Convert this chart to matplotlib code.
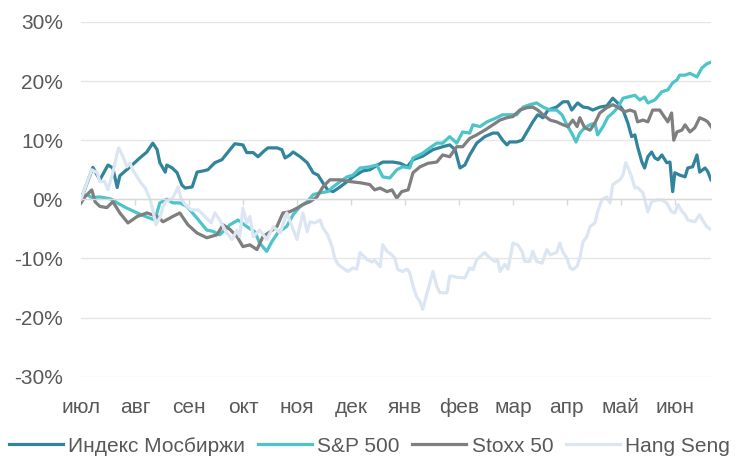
import numpy as np
import matplotlib
matplotlib.use("Agg")
import matplotlib.pyplot as plt

plt.rcParams['font.family'] = ['Liberation Sans', 'DejaVu Sans']

# --- Данные (x в месяцах от начала июля, y в %) ---
MONTHS = ['июл', 'авг', 'сен', 'окт', 'ноя', 'дек', 'янв', 'фев', 'мар', 'апр', 'май', 'июн']

moex_x = [0.00, 0.22, 0.35, 0.50, 0.59, 0.67, 0.72, 0.91, 1.09, 1.22, 1.33, 1.41, 1.46, 1.56, 1.59,
          1.69, 1.78, 1.87, 1.93, 2.06, 2.15, 2.26, 2.35, 2.48, 2.61, 2.76, 2.85, 3.00, 3.07, 3.19,
          3.28, 3.37, 3.46, 3.63, 3.72, 3.78, 3.87, 3.93, 4.06, 4.19, 4.30, 4.39, 4.48, 4.57, 4.67,
          4.80, 4.93, 5.04, 5.22, 5.35, 5.59, 5.78, 5.91, 6.04, 6.15, 6.33, 6.52, 6.70, 6.83, 6.93,
          7.02, 7.11, 7.20, 7.33, 7.48, 7.63, 7.72, 7.81, 7.89, 7.94, 8.07, 8.17, 8.26, 8.37, 8.46,
          8.56, 8.65, 8.81, 8.93, 9.02, 9.09, 9.20, 9.30, 9.39, 9.48, 9.61, 9.74, 9.85, 9.94, 10.04,
          10.13, 10.20, 10.26, 10.31, 10.39, 10.44, 10.50, 10.57, 10.63, 10.69, 10.76, 10.85, 10.91,
          10.96, 11.00, 11.09, 11.19, 11.24, 11.33, 11.41, 11.46, 11.56, 11.61, 11.67]
moex_y = [0.0, 5.4, 3.3, 5.8, 5.3, 2.0, 4.0, 5.5, 7.0, 8.0, 9.5, 8.4, 6.2, 4.6, 5.8,
          5.3, 4.5, 2.4, 1.9, 2.1, 4.6, 4.8, 5.0, 6.2, 6.7, 8.4, 9.4, 9.2, 7.9, 7.9,
          7.2, 8.0, 8.7, 8.7, 8.4, 7.0, 7.5, 8.0, 7.2, 6.2, 4.5, 4.1, 2.8, 1.6, 1.3,
          2.1, 3.0, 3.8, 4.8, 5.0, 6.3, 6.3, 6.1, 5.5, 6.7, 7.3, 8.4, 8.9, 9.2, 8.4,
          5.3, 5.8, 7.5, 9.5, 10.6, 11.2, 11.2, 10.0, 9.2, 9.7, 9.7, 10.0, 11.4, 13.1, 14.3,
          13.8, 15.1, 15.6, 16.5, 16.5, 15.1, 16.3, 15.6, 15.5, 15.1, 15.6, 15.8, 17.1, 16.3, 15.1,
          12.9, 10.6, 10.9, 8.9, 6.3, 5.3, 7.2, 8.0, 7.0, 6.7, 7.5, 6.2, 6.3,
          1.3, 4.5, 4.1, 3.8, 5.3, 5.5, 7.5, 4.6, 5.3, 4.7, 3.3]

sp_x = [0.00, 0.11, 0.20, 0.35, 0.48, 0.57, 0.67, 0.85, 1.04, 1.22, 1.37, 1.46, 1.59, 1.70, 1.83,
        1.96, 2.15, 2.33, 2.44, 2.57, 2.76, 2.91, 3.07, 3.22, 3.31, 3.44, 3.54, 3.65, 3.81, 3.93,
        4.06, 4.19, 4.30, 4.43, 4.57, 4.67, 4.80, 4.93, 5.04, 5.17, 5.35, 5.48, 5.59, 5.72, 5.85,
        5.96, 6.09, 6.15, 6.33, 6.46, 6.59, 6.70, 6.83, 6.96, 7.07, 7.20, 7.26, 7.39, 7.52, 7.70,
        7.81, 8.07, 8.19, 8.31, 8.44, 8.56, 8.69, 8.81, 8.91, 9.00, 9.09, 9.17, 9.24, 9.33, 9.43,
        9.52, 9.57, 9.67, 9.76, 9.85, 9.94, 10.04, 10.13, 10.26, 10.35, 10.44, 10.50, 10.63, 10.76,
        10.87, 10.96, 11.04, 11.09, 11.19, 11.28, 11.41, 11.50, 11.59, 11.67]
sp_y = [0.4, 0.8, 0.3, 0.4, 0.2, 0.0, -0.6, -1.5, -2.3, -3.0, -3.5, -0.6, 0.0, -0.6, -0.6,
        -1.2, -3.2, -5.2, -5.4, -6.0, -4.3, -3.5, -4.6, -5.5, -7.4, -8.8, -7.1, -5.6, -4.6, -2.6,
        -1.2, -0.4, 0.8, 1.1, 1.3, 2.1, 3.0, 3.8, 4.1, 5.3, 5.5, 5.8, 3.8, 3.6, 5.0,
        5.5, 5.3, 7.0, 7.8, 8.7, 9.5, 9.5, 10.6, 9.5, 11.4, 11.2, 12.6, 12.3, 13.1, 13.8,
        14.3, 14.3, 15.6, 16.0, 16.3, 15.6, 15.1, 15.1, 14.3, 12.6, 11.2, 9.7, 11.2, 12.1, 12.6,
        12.9, 10.9, 12.3, 13.9, 14.6, 15.5, 17.1, 17.3, 17.6, 16.8, 17.3, 16.3, 16.8, 18.2,
        18.5, 19.7, 20.2, 21.0, 21.0, 21.3, 20.7, 22.2, 22.9, 23.2]

stoxx_x = [0.00, 0.07, 0.20, 0.26, 0.35, 0.48, 0.59, 0.72, 0.87, 1.04, 1.22, 1.41, 1.52, 1.70, 1.83,
           1.98, 2.15, 2.33, 2.52, 2.63, 2.76, 2.89, 3.00, 3.13, 3.26, 3.37, 3.50, 3.63, 3.74, 3.87,
           4.00, 4.11, 4.24, 4.37, 4.48, 4.61, 4.80, 4.98, 5.17, 5.35, 5.44, 5.54, 5.67, 5.76, 5.85,
           5.94, 6.06, 6.15, 6.28, 6.43, 6.59, 6.70, 6.83, 6.96, 7.07, 7.20, 7.33, 7.48, 7.63, 7.76,
           7.89, 8.00, 8.13, 8.26, 8.37, 8.46, 8.56, 8.69, 8.81, 8.93, 9.02, 9.11, 9.19, 9.24, 9.33,
           9.43, 9.52, 9.61, 9.74, 9.85, 9.94, 10.07, 10.17, 10.26, 10.31, 10.41, 10.50, 10.59, 10.72,
           10.81, 10.87, 10.94, 10.98, 11.04, 11.13, 11.19, 11.28, 11.37, 11.46, 11.56, 11.61, 11.67]
stoxx_y = [-0.6, 0.4, 1.6, -0.4, -1.2, -1.4, -0.4, -2.3, -4.0, -2.9, -2.3, -2.9, -3.8, -2.9, -2.3,
           -4.3, -5.7, -6.5, -6.0, -4.3, -5.1, -6.3, -8.0, -7.7, -8.5, -6.3, -5.5, -4.6, -2.3, -2.1,
           -1.5, -0.9, -0.4, 0.4, 2.1, 3.3, 3.3, 3.0, 2.8, 2.5, 1.6, 1.9, 1.3, 1.6, 0.2,
           1.3, 1.6, 4.5, 5.5, 6.1, 6.3, 7.5, 7.2, 8.9, 8.9, 10.3, 10.9, 11.7, 12.6, 13.4,
           13.8, 14.0, 15.1, 15.5, 15.6, 15.1, 14.3, 13.4, 13.1, 12.6, 12.3, 13.4, 12.3, 13.8, 12.1,
           11.7, 12.9, 14.6, 15.5, 16.0, 15.6, 14.8, 15.1, 14.8, 13.1, 13.4, 13.1, 15.1, 15.1,
           13.9, 13.1, 14.6, 10.0, 11.4, 11.7, 12.6, 11.4, 12.1, 13.8, 13.4, 13.1, 12.3]

hs_x = [0.00, 0.11, 0.20, 0.30, 0.35, 0.44, 0.50, 0.59, 0.67, 0.70, 0.78, 0.85, 0.91, 0.96, 1.04,
        1.11, 1.19, 1.28, 1.33, 1.39, 1.46, 1.52, 1.57, 1.70, 1.80, 1.85, 1.93, 2.04, 2.17, 2.30,
        2.41, 2.48, 2.57, 2.70, 2.80, 2.89, 2.94, 3.00, 3.07, 3.13, 3.19, 3.31, 3.44, 3.56, 3.69,
        3.81, 3.91, 4.00, 4.11, 4.19, 4.24, 4.33, 4.43, 4.48, 4.57, 4.65, 4.70, 4.76, 4.85, 4.94,
        5.04, 5.11, 5.17, 5.30, 5.39, 5.44, 5.54, 5.59, 5.67, 5.76, 5.81, 5.87, 5.96, 6.04, 6.09,
        6.15, 6.22, 6.28, 6.33, 6.39, 6.46, 6.52, 6.56, 6.59, 6.65, 6.78, 6.83, 6.89, 6.98, 7.11,
        7.20, 7.26, 7.33, 7.43, 7.48, 7.57, 7.67, 7.72, 7.76, 7.85, 7.91, 7.98, 8.00, 8.09, 8.17,
        8.22, 8.31, 8.37, 8.44, 8.54, 8.63, 8.69, 8.81, 8.87, 8.93, 9.00, 9.06, 9.11, 9.19, 9.24,
        9.30, 9.37, 9.43, 9.52, 9.57, 9.65, 9.74, 9.80, 9.85, 9.98, 10.04, 10.09, 10.13, 10.20,
        10.26, 10.31, 10.41, 10.50, 10.57, 10.67, 10.76, 10.85, 10.94, 11.00, 11.06, 11.13, 11.19,
        11.24, 11.37, 11.46, 11.52, 11.59, 11.65]
hs_y = [0.0, 2.8, 5.0, 4.5, 3.0, 3.0, 1.6, 4.5, 7.8, 8.7, 7.2, 5.5, 6.1, 5.0, 3.8,
        2.8, 1.9, 0.0, -1.8, -4.3, -3.1, -1.2, -0.4, 0.2, 2.1, 0.2, -0.9, -1.8, -1.8, -2.9,
        -4.0, -2.3, -3.5, -5.7, -6.8, -5.2, -6.3, -1.5, -4.0, -2.9, -6.3, -5.2, -6.8, -4.6, -5.7,
        -2.3, -4.6, -6.8, -2.3, -5.5, -3.8, -4.0, -3.5, -4.8, -6.0, -8.0, -9.9, -11.0, -11.6, -12.2,
        -11.6, -11.8, -9.0, -10.2, -10.6, -10.3, -11.4, -7.7, -8.8, -9.4, -9.9, -11.9, -12.2, -11.8, -12.4,
        -14.7, -16.5, -17.3, -18.6, -16.5, -14.2, -12.2, -13.6, -14.7, -15.8, -15.8, -13.0, -13.0, -13.2, -13.3,
        -11.6, -11.9, -10.2, -9.4, -9.0, -9.9, -10.5, -10.2, -12.2, -11.0, -11.8, -8.5, -7.4, -7.7, -8.8,
        -10.5, -10.5, -8.8, -10.5, -10.8, -8.5, -9.4, -9.0, -7.4, -9.0, -9.9, -11.6, -11.9, -11.3, -9.9,
        -7.2, -6.3, -4.6, -4.0, -2.1, 0.0, 0.4, -0.6, 2.5, 3.3, 4.1, 6.2, 5.4, 3.8,
        1.9, 2.0, 1.1, -2.1, -0.4, -0.1, -0.1, -0.6, -2.1, -2.3, -0.9, -2.0, -2.6,
        -3.5, -3.8, -2.6, -3.6, -4.6, -5.0]

SERIES = [
    ('Индекс Мосбиржи', moex_x, moex_y, '#31849B'),
    ('S&P 500', sp_x, sp_y, '#4BC4CA'),
    ('Stoxx 50', stoxx_x, stoxx_y, '#7F7F7F'),
    ('Hang Seng', hs_x, hs_y, '#DCE6F2'),
]

TEXT_COLOR = '#595959'

# --- График ---
fig = plt.figure(figsize=(7.39, 4.57), dpi=100)
ax = fig.add_axes([0.1096, 0.1757, 0.8525, 0.7763])

for name, xs, ys, color in SERIES:
    ax.plot(xs, ys, color=color, lw=2.3, label=name, solid_joinstyle='round')

ax.set_xlim(0, 11.67)
ax.set_ylim(-30, 30)
ax.set_yticks(np.arange(-30, 31, 10))
ax.set_yticklabels([f'{v}%' for v in range(-30, 31, 10)])
ax.yaxis.grid(True, color='#E6E6E6', lw=1.0)
ax.set_axisbelow(True)
ax.tick_params(axis='y', length=0, pad=13, labelsize=15, labelcolor=TEXT_COLOR)

for side in ['top', 'right', 'left']:
    ax.spines[side].set_visible(False)
# ось X проходит через 0 с насечками, подписи месяцев внизу
ax.spines['bottom'].set_position(('data', 0))
ax.spines['bottom'].set_color('#D9D9D9')
ax.spines['bottom'].set_linewidth(1.0)
ax.set_xticks(range(len(MONTHS)))
ax.tick_params(axis='x', direction='out', length=4, width=1, color='#D9D9D9',
               labelbottom=False)

sec = ax.secondary_xaxis('bottom')
sec.set_xticks(range(len(MONTHS)))
sec.set_xticklabels(MONTHS)
sec.tick_params(length=0, pad=15, labelsize=15, labelcolor=TEXT_COLOR)
sec.spines['bottom'].set_visible(False)

fig.legend(loc='center', bbox_to_anchor=(0.5, 0.024), ncol=4, frameon=False,
           fontsize=15, labelcolor=TEXT_COLOR, handlelength=2.6, handletextpad=0.25,
           columnspacing=0.6, borderaxespad=0, borderpad=0)

fig.savefig('out.png', dpi=100)
